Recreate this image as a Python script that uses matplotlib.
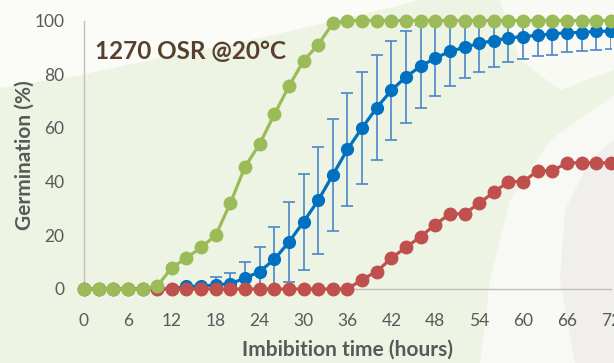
import numpy as np
import matplotlib.pyplot as plt
from matplotlib.patches import Polygon

plt.rcParams['font.family'] = ['Lato', 'DejaVu Sans']

hours = np.arange(0, 74, 2)

green = [0, 0, 0, 0, 0, 1, 8, 11.5, 15.5, 20, 32, 45.5, 54, 65, 75.5, 85, 91, 99,
         100, 100, 100, 100, 100, 100, 100, 100, 100, 100, 100, 100, 100, 100, 100,
         100, 100, 100, 100]
blue = [0, 0, 0, 0, 0, 0, 0, 1, 1, 1.5, 2, 4, 6.5, 11, 17.5, 25, 33, 42.5, 52, 60,
        67.5, 74, 79, 83, 86, 88.5, 90, 91.5, 92.5, 93.5, 94, 94.5, 95, 95.5, 95.5,
        96, 96]
blue_err = [0, 0, 0, 0, 0, 0, 0, 0.5, 1, 3, 4, 6, 9, 12, 15, 18, 20, 21, 21, 21,
            19.5, 18.5, 17, 15.5, 14, 13, 11.5, 10.5, 9.8, 9, 8.5, 7.8, 7.8, 7.3,
            7, 7, 6.6]
red = [0, 0, 0, 0, 0, 0, 0, 0, 0, 0, 0, 0, 0, 0, 0, 0, 0, 0, 0, 3.5, 6.5, 11.5,
       15.5, 19.5, 24, 28, 28, 32, 36, 40, 40, 44, 44, 47, 47, 47, 47]

xticks = list(range(0, 78, 6))
yticks = list(range(0, 120, 20))

fig = plt.figure(figsize=(6.14, 3.63), dpi=100)
fig.patch.set_facecolor('#eef4e4')

# pale slide background shapes
bg = fig.add_axes([0, 0, 1, 1], zorder=-10)
bg.set_xlim(0, 614)
bg.set_ylim(363, 0)
bg.axis('off')
bg.add_patch(Polygon([(0, 0), (0, 88), (80, 75), (160, 58), (260, 38), (360, 15),
                      (420, 0)], closed=True, color='#fbfcf8', lw=0))
bg.add_patch(Polygon([(500, 0), (614, 0), (614, 70), (560, 90), (520, 60)],
                     closed=True, color='#f8faf3', lw=0))
bg.add_patch(Polygon([(480, 363), (490, 280), (510, 200), (550, 140), (614, 95),
                      (614, 363)], closed=True, color='#f8f8f5', lw=0))
bg.add_patch(Polygon([(575, 363), (560, 280), (565, 210), (590, 160), (614, 140),
                      (614, 363)], closed=True, color='#f1efec', lw=0))

ax = fig.add_axes([0.1368, 0.2039, 0.8582, 0.7396])
ax.patch.set_alpha(0)

# error bars clipped at the top of the axis, like the reference
ax.errorbar(hours, blue, yerr=blue_err, fmt='none', ecolor='#4a86c8',
            elinewidth=1.2, capsize=4.5, capthick=1.2, zorder=2)
ax.plot(hours, blue, color='#0070c0', lw=2.3, marker='o', markersize=8.5,
        clip_on=False, zorder=3)
ax.plot(hours, red, color='#c0504d', lw=2.3, marker='o', markersize=9,
        clip_on=False, zorder=4)
ax.plot(hours, green, color='#9bbb59', lw=2.3, marker='o', markersize=9,
        clip_on=False, zorder=5)

ax.set_xlim(0, 72)
ax.set_ylim(0, 100)
ax.set_xticks(xticks)
ax.set_yticks(yticks)
ax.tick_params(length=0, labelsize=12.5, colors='#595959')
ax.tick_params(axis='y', pad=14)
ax.tick_params(axis='x', pad=17)

for s in ['top', 'right']:
    ax.spines[s].set_visible(False)
for s in ['left', 'bottom']:
    ax.spines[s].set_color('#bfbfbf')
    ax.spines[s].set_linewidth(1)

ax.set_xlabel('Imbibition time (hours)', fontsize=15, fontweight='bold',
              color='#595959', labelpad=8)
ax.set_ylabel('Germination (%)', fontsize=15, fontweight='bold',
              color='#595959', labelpad=0)

ax.text(0.02, 0.885, '1270 OSR @20°C', transform=ax.transAxes, fontsize=17.5,
        fontweight='bold', color='#58402f', va='center', ha='left')

fig.savefig('out.png', dpi=100, facecolor=fig.get_facecolor())
